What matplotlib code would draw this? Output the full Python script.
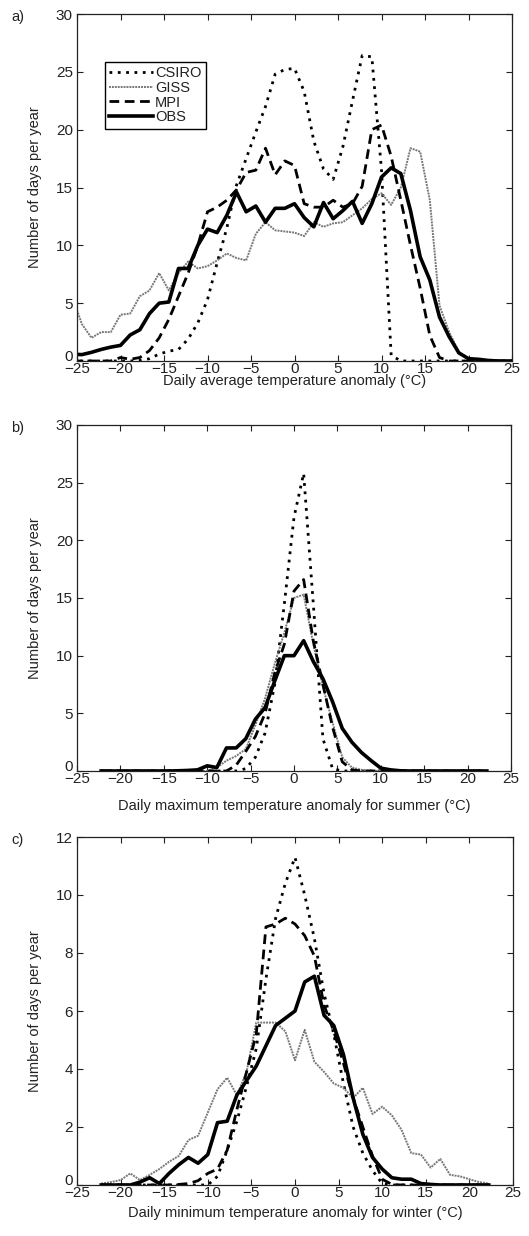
import numpy as np
import matplotlib
matplotlib.use("Agg")
import matplotlib.pyplot as plt
import matplotlib.transforms as mtransforms

plt.rcParams['font.family'] = ['Liberation Sans', 'DejaVu Sans']

# bin index (2 F bins -> 10/9 C wide)
bins_a = np.arange(-23, 24)
bins_bc = np.arange(-20, 21)
x_a = bins_a * 10 / 9
x_bc = bins_bc * 10 / 9

# ---- panel a: daily average temperature anomaly ----
csiro_a = [0, 0, 0, 0, 0, 0, 0, 0.05, 0.2, 0.6, 0.85, 1.0, 1.9, 3.3, 5.3, 8.5,
           11.5, 15.2, 17.5, 19.8, 22.0, 24.8, 25.2, 25.3, 23.3, 19.0, 16.6, 15.7,
           18.5, 22.5, 26.4, 26.3, 16.5, 0.5, 0, 0, 0, 0, 0, 0, 0, 0, 0, 0, 0, 0, 0]
giss_a = [5.6, 3.2, 2.0, 2.5, 2.5, 4.0, 4.1, 5.6, 6.1, 7.6, 6.1, 7.6, 8.6, 8.0,
          8.2, 8.7, 9.3, 8.9, 8.7, 11.0, 12.0, 11.3, 11.2, 11.1, 10.8, 12.0, 11.6,
          11.9, 12.0, 12.6, 13.2, 14.0, 14.5, 13.5, 15.0, 18.4, 18.1, 13.9, 4.8, 2.5,
          0.8, 0.15, 0, 0, 0, 0, 0]
mpi_a = [0, 0, 0, 0, 0, 0.3, 0.15, 0.3, 0.9, 2.0, 3.6, 5.6, 7.6, 10.0, 12.9, 13.3,
         13.9, 14.8, 16.3, 16.5, 18.4, 16.1, 17.3, 16.9, 13.6, 13.3, 13.3, 13.9,
         13.3, 13.6, 15.1, 20.0, 20.4, 17.7, 13.9, 10.0, 6.3, 2.2, 0.3, 0, 0, 0, 0,
         0, 0, 0, 0]
obs_a = [0.6, 0.55, 0.75, 1.0, 1.2, 1.35, 2.25, 2.7, 4.1, 5.0, 5.1, 8.0, 8.0, 10.0,
         11.4, 11.1, 12.6, 14.6, 12.9, 13.4, 12.0, 13.2, 13.2, 13.6, 12.4, 11.6,
         13.7, 12.3, 13.0, 13.8, 11.9, 13.6, 15.9, 16.7, 16.2, 13.0, 9.0, 7.0, 3.8,
         2.1, 0.7, 0.2, 0.15, 0.05, 0, 0, 0]

# ---- panel b: daily maximum temperature anomaly, summer ----
csiro_b = [0, 0, 0, 0, 0, 0, 0, 0, 0, 0, 0, 0, 0, 0, 0, 0.2, 1.2, 3.3, 7.5, 14.5,
           22.0, 25.8, 14.5, 2.8, 0.2, 0, 0, 0, 0, 0, 0, 0, 0, 0, 0, 0, 0, 0, 0, 0, 0]
giss_b = [0, 0, 0, 0, 0, 0, 0, 0, 0, 0, 0, 0, 0.3, 0.9, 1.3, 1.9, 4.0, 6.3, 9.3,
          12.0, 15.0, 15.3, 11.0, 7.3, 4.2, 1.2, 0.3, 0.1, 0.02, 0, 0, 0, 0, 0, 0,
          0, 0, 0, 0, 0, 0]
mpi_b = [0, 0, 0, 0, 0, 0, 0, 0, 0, 0, 0, 0, 0, 0, 0.5, 1.7, 3.0, 5.0, 8.5, 11.0,
         15.6, 16.6, 11.3, 7.5, 3.8, 0.8, 0.1, 0, 0, 0, 0, 0, 0, 0, 0, 0, 0, 0, 0,
         0, 0]
obs_b = [0, 0, 0, 0, 0, 0, 0, 0, 0.02, 0.05, 0.1, 0.45, 0.3, 2.0, 2.0, 2.8, 4.5,
         5.5, 7.8, 10.0, 10.0, 11.3, 9.5, 8.0, 6.0, 3.7, 2.5, 1.6, 0.9, 0.25, 0.1,
         0.02, 0, 0, 0, 0, 0, 0, 0, 0, 0]

# ---- panel c: daily minimum temperature anomaly, winter ----
csiro_c = [0, 0, 0, 0, 0, 0, 0, 0, 0, 0, 0, 0, 0.3, 1.2, 2.2, 3.4, 4.7, 7.1, 9.2,
           10.4, 11.3, 10.0, 8.5, 6.6, 5.2, 3.5, 2.0, 1.1, 0.5, 0.05, 0, 0, 0, 0,
           0, 0, 0, 0, 0, 0, 0]
giss_c = [0.05, 0.1, 0.17, 0.4, 0.17, 0.35, 0.55, 0.8, 1.0, 1.55, 1.7, 2.5, 3.3,
          3.7, 3.1, 3.9, 5.6, 5.6, 5.6, 5.3, 4.3, 5.35, 4.25, 3.9, 3.5, 3.35, 3.0,
          3.35, 2.45, 2.7, 2.4, 1.9, 1.1, 1.05, 0.6, 0.9, 0.35, 0.3, 0.2, 0.1, 0.05]
mpi_c = [0, 0, 0, 0, 0, 0, 0, 0, 0.02, 0.05, 0.15, 0.4, 0.55, 1.2, 2.6, 3.9, 5.2,
         8.9, 9.0, 9.2, 9.0, 8.6, 7.9, 6.2, 5.3, 4.2, 3.0, 2.0, 1.0, 0.2, 0.02, 0,
         0, 0, 0, 0, 0, 0, 0, 0, 0]
obs_c = [0, 0, 0, 0, 0.1, 0.25, 0.05, 0.4, 0.7, 0.95, 0.75, 1.05, 2.15, 2.2, 3.1,
         3.6, 4.1, 4.8, 5.5, 5.75, 6.0, 7.0, 7.2, 5.85, 5.5, 4.5, 3.0, 1.75, 0.95,
         0.55, 0.25, 0.2, 0.2, 0.05, 0.02, 0, 0, 0, 0, 0, 0]

labels = ['CSIRO', 'GISS', 'MPI', 'OBS']
xlabels = ['Daily average temperature anomaly (\u00b0C)',
           'Daily maximum temperature anomaly for summer (\u00b0C)',
           'Daily minimum temperature anomaly for winter (\u00b0C)']
ink = '#222222'
styles = [dict(color='black', lw=2.0, ls=(0, (1, 2))),
          dict(color='#777777', lw=1.4, ls=(0, (1, 0.5))),
          dict(color='black', lw=2.0, ls=(0, (3.5, 2))),
          dict(color='black', lw=2.6, ls='-')]

fig = plt.figure(figsize=(5.29, 12.36), dpi=100)
W, H = 529, 1236
boxes = [(77, 14, 512, 361), (77, 425, 511, 771), (77, 837, 513, 1185)]
xlabel_pads = [-1.5, 9, 4]
panels = [(x_a, [csiro_a, giss_a, mpi_a, obs_a], 30, 5, 'a)'),
          (x_bc, [csiro_b, giss_b, mpi_b, obs_b], 30, 5, 'b)'),
          (x_bc, [csiro_c, giss_c, mpi_c, obs_c], 12, 2, 'c)')]
lift = mtransforms.ScaledTranslation(0, 4 / 72, fig.dpi_scale_trans)

for i, ((l, t, r, b), (xs, series, ymax, ystep, tag)) in enumerate(zip(boxes, panels)):
    ax = fig.add_axes([l / W, 1 - b / H, (r - l) / W, (b - t) / H])
    for ys, st, lab in zip(series, styles, labels):
        ax.plot(xs, ys, label=lab, **st)
    ax.set_xlim(-25, 25)
    ax.set_ylim(0, ymax)
    xt = np.arange(-25, 26, 5)
    yt = np.arange(0, ymax + 1, ystep)
    ax.set_xticks(xt, ['\u2212%d' % -v if v < 0 else '%d' % v for v in xt])
    ax.set_yticks(yt, ['%d' % v for v in yt])
    ax.tick_params(direction='in', top=True, right=True, length=4, width=0.8,
                   labelsize=11, labelcolor=ink, color=ink)
    ax.tick_params(axis='x', pad=1)
    ax.tick_params(axis='y', pad=3)
    zero_lbl = ax.yaxis.get_major_ticks()[0].label1
    zero_lbl.set_transform(zero_lbl.get_transform() + lift)
    for sp in ax.spines.values():
        sp.set_linewidth(0.9)
        sp.set_color(ink)
    ax.set_xlabel(xlabels[i], fontsize=10.5, color=ink, labelpad=xlabel_pads[i])
    ax.set_ylabel('Number of days per year', fontsize=10.5, color=ink, labelpad=10)
    fig.text(11 / W, 1 - (t + 3) / H, tag, fontsize=10.5, color=ink, va='center')
    if i == 0:
        leg = ax.legend(loc='upper left', bbox_to_anchor=(0.064, 0.8625),
                        borderaxespad=0, fancybox=False, edgecolor='black',
                        fontsize=10.5, handlelength=3.0, handletextpad=0.15,
                        labelspacing=0.05, borderpad=0.3, framealpha=1)
        leg.get_frame().set_linewidth(1.0)
        for tx in leg.get_texts():
            tx.set_color(ink)

fig.savefig('out.png', dpi=100)
